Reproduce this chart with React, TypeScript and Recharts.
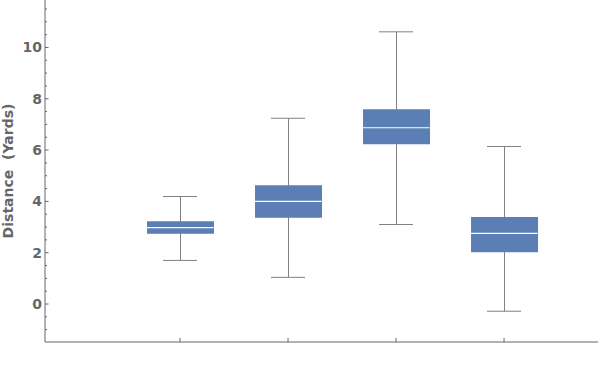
import { ComposedChart, Bar, Scatter, XAxis, YAxis } from 'recharts';

const positions = [1, 2, 3, 4];
const mins = [1.7, 1.04, 3.1, -0.28];
const q1s = [2.74, 3.36, 6.23, 2.02];
const medians = [2.98, 4.0, 6.87, 2.75];
const q3s = [3.23, 4.63, 7.59, 3.39];
const maxs = [4.19, 7.24, 10.61, 6.14];

const yTicks = [-1, -0.5, 0, 0.5, 1, 1.5, 2, 2.5, 3, 3.5, 4, 4.5, 5, 5.5, 6, 6.5, 7, 7.5, 8, 8.5, 9, 9.5, 10, 10.5, 11, 11.5];
const yLabels = [0, 2, 4, 6, 8, 10];

const rows = positions.map((pos, i) => ({
  pos,
  whisker: [mins[i], maxs[i]],
  box: [q1s[i], q3s[i]],
  median: medians[i],
  min: mins[i],
  max: maxs[i],
}));

const BOX = '#5b7fb5';
const WHISKER = '#808080';
const AXIS = '#666666';

const YTick = (props: any) => {
  const { x, y, payload } = props;
  const major = yLabels.includes(payload.value);
  return (
    <g>
      <line x1={x} x2={x + (major ? 3.5 : 2)} y1={y} y2={y} stroke={AXIS} strokeWidth={1} />
      {major && (
        <text x={x - 3} y={y} dy={5} textAnchor="end" fill={AXIS} fontSize={14} fontWeight="bold" fontFamily="DejaVu Sans">
          {payload.value}
        </text>
      )}
    </g>
  );
};

const XTick = (props: any) => {
  const { x, y } = props;
  return <line x1={x} x2={x} y1={y} y2={y - 4} stroke={AXIS} strokeWidth={1} />;
};

const cap = (props: any) => (
  <line x1={props.cx - 17} x2={props.cx + 17} y1={props.cy} y2={props.cy} stroke={WHISKER} strokeWidth={1} />
);

const medianLine = (props: any) => (
  <line x1={props.cx - 33.5} x2={props.cx + 33.5} y1={props.cy} y2={props.cy} stroke="#ffffff" strokeWidth={1.2} />
);

export default function App() {
  return (
    <div style={{ position: 'absolute', left: 0, top: 0, width: 600, height: 370, background: '#fff' }}>
      <ComposedChart width={600} height={370} data={rows} margin={{ top: 0, right: 2, left: 0, bottom: 0 }}>
        <XAxis
          xAxisId="a"
          dataKey="pos"
          type="number"
          domain={[-0.25, 4.87]}
          ticks={positions}
          allowDataOverflow
          height={28}
          stroke={AXIS}
          tickLine={false}
          tickSize={0}
          tickMargin={0}
          tick={XTick}
        />
        <XAxis xAxisId="b" dataKey="pos" type="number" domain={[-0.25, 4.87]} allowDataOverflow hide />
        <YAxis
          type="number"
          domain={[-1.48, 11.85]}
          ticks={yTicks}
          allowDataOverflow
          interval={0}
          width={45}
          stroke={AXIS}
          tickLine={false}
          tickSize={0}
          tickMargin={0}
          tick={YTick}
          label={{
            value: 'Distance\u00a0\u00a0(Yards)',
            angle: -90,
            position: 'insideLeft',
            dx: 3,
            style: { textAnchor: 'middle', fill: AXIS, fontSize: 14, fontWeight: 'bold', fontFamily: 'DejaVu Sans' },
          }}
        />
        <Bar xAxisId="b" dataKey="whisker" barSize={1} fill={WHISKER} isAnimationActive={false} />
        <Bar xAxisId="a" dataKey="box" barSize={67} fill={BOX} isAnimationActive={false} />
        <Scatter xAxisId="a" data={rows} dataKey="min" shape={cap} isAnimationActive={false} />
        <Scatter xAxisId="a" data={rows} dataKey="max" shape={cap} isAnimationActive={false} />
        <Scatter xAxisId="a" data={rows} dataKey="median" shape={medianLine} isAnimationActive={false} />
      </ComposedChart>
    </div>
  );
}
